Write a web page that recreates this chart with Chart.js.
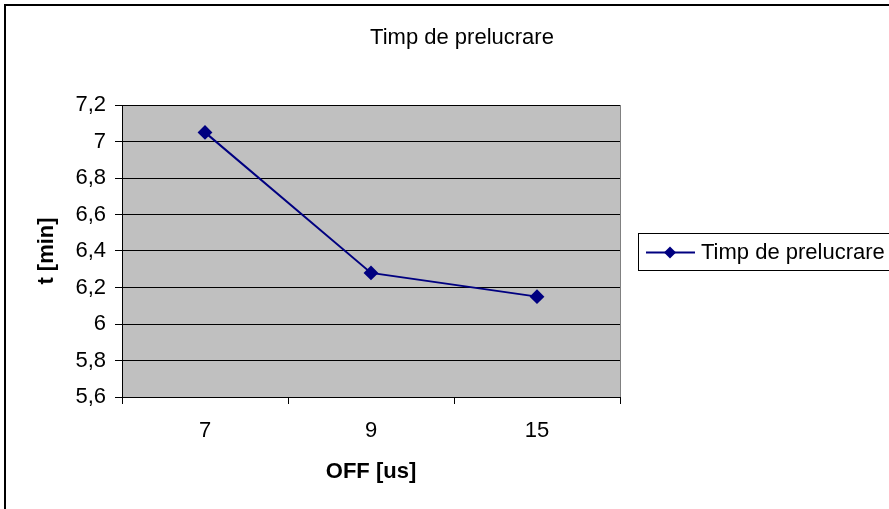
<!DOCTYPE html>
<html>
<head>
<meta charset="utf-8">
<script src="https://cdn.jsdelivr.net/npm/chart.js@4/dist/chart.umd.min.js"></script>
<style>
  html, body { margin: 0; padding: 0; background: #ffffff; }
  canvas { display: block; }
</style>
</head>
<body>
<canvas id="c" width="889" height="509"></canvas>
<script>
// Processing time versus OFF pulse duration
const categories = ['7', '9', '15'];
const timpValues = [7.05, 6.28, 6.15];
const seriesLabel = 'Timp de prelucrare';
const chartTitle = 'Timp de prelucrare';
const xTitle = 'OFF [us]';
const yTitle = 't [min]';
const yMin = 5.6, yMax = 7.2, yStep = 0.2;

const FONT = "'Liberation Sans', Arial, sans-serif";
const FS = 22;
const NAVY = '#000080';

// Comma as decimal separator on the value axis
function fmt(v) {
  const r = Math.round(v * 10) / 10;
  return String(r).replace('.', ',');
}

const decor = {
  id: 'decor',
  beforeDraw(chart) {
    const { ctx, chartArea: a } = chart;
    ctx.save();
    ctx.fillStyle = '#ffffff';
    ctx.fillRect(0, 0, chart.width, chart.height);
    // outer frame
    ctx.strokeStyle = '#000000';
    ctx.lineWidth = 2;
    ctx.beginPath();
    ctx.moveTo(5, chart.height + 2);
    ctx.lineTo(5, 5);
    ctx.lineTo(chart.width + 2, 5);
    ctx.stroke();
    // plot background
    ctx.fillStyle = '#C0C0C0';
    ctx.fillRect(a.left, a.top, a.right - a.left, a.bottom - a.top);
    ctx.restore();
  },
  afterDraw(chart) {
    const { ctx, chartArea: a } = chart;
    ctx.save();
    // plot border (right side)
    ctx.strokeStyle = '#808080';
    ctx.lineWidth = 1;
    ctx.beginPath();
    ctx.moveTo(a.right + 0.5, a.top);
    ctx.lineTo(a.right + 0.5, a.bottom);
    ctx.stroke();

    // title
    ctx.fillStyle = '#000000';
    ctx.font = FS + 'px ' + FONT;
    ctx.textAlign = 'center';
    ctx.textBaseline = 'middle';
    ctx.fillText(chartTitle, 462, 38);

    // legend
    const ds = chart.data.datasets[0];
    const bx = 638, by = 233, bh = 37;
    ctx.strokeStyle = '#000000';
    ctx.lineWidth = 1;
    ctx.strokeRect(bx + 0.5, by + 0.5, chart.width, bh);
    const ly = by + bh / 2 + 1;
    ctx.strokeStyle = ds.borderColor;
    ctx.lineWidth = ds.borderWidth;
    ctx.beginPath();
    ctx.moveTo(bx + 8, ly);
    ctx.lineTo(bx + 57, ly);
    ctx.stroke();
    ctx.fillStyle = ds.pointBackgroundColor;
    ctx.beginPath();
    const r = 6;
    const cx = bx + 32;
    ctx.moveTo(cx, ly - r);
    ctx.lineTo(cx + r, ly);
    ctx.lineTo(cx, ly + r);
    ctx.lineTo(cx - r, ly);
    ctx.closePath();
    ctx.fill();
    ctx.fillStyle = '#000000';
    ctx.font = FS + 'px ' + FONT;
    ctx.textAlign = 'left';
    ctx.textBaseline = 'middle';
    ctx.fillText(ds.label, bx + 63, ly);
    ctx.restore();
  }
};

new Chart(document.getElementById('c'), {
  type: 'line',
  data: {
    labels: categories,
    datasets: [{
      label: seriesLabel,
      data: timpValues,
      borderColor: NAVY,
      backgroundColor: NAVY,
      pointBackgroundColor: NAVY,
      pointBorderColor: NAVY,
      borderWidth: 2,
      pointStyle: 'rectRot',
      pointRadius: 6,
      tension: 0,
      fill: false
    }]
  },
  options: {
    responsive: false,
    animation: false,
    events: [],
    layout: { padding: { left: 0, top: 105, right: 269, bottom: 0 } },
    plugins: {
      legend: { display: false },
      title: { display: false },
      tooltip: { enabled: false }
    },
    scales: {
      x: {
        type: 'category',
        offset: true,
        afterFit(s) { s.height = 112; },
        grid: {
          offset: true,
          drawOnChartArea: false,
          drawTicks: true,
          tickLength: 7,
          color: '#000000'
        },
        border: { color: '#000000', width: 1 },
        ticks: {
          color: '#000000',
          padding: 14,
          font: { family: FONT, size: FS },
          maxRotation: 0
        },
        title: {
          display: true,
          text: xTitle,
          color: '#000000',
          font: { family: FONT, size: FS, weight: 'bold' },
          padding: { top: 0, bottom: 24 }
        }
      },
      y: {
        min: yMin,
        max: yMax,
        afterFit(s) { s.width = 122; },
        grid: {
          color: '#000000',
          lineWidth: 1,
          tickLength: 7
        },
        border: { color: '#000000', width: 1 },
        ticks: {
          stepSize: yStep,
          color: '#000000',
          padding: 9,
          font: { family: FONT, size: FS },
          callback: (v) => fmt(v)
        },
        title: {
          display: true,
          text: yTitle,
          color: '#000000',
          font: { family: FONT, size: FS, weight: 'bold' },
          padding: { top: 34, bottom: 0 }
        }
      }
    }
  },
  plugins: [decor]
});
</script>
</body>
</html>
